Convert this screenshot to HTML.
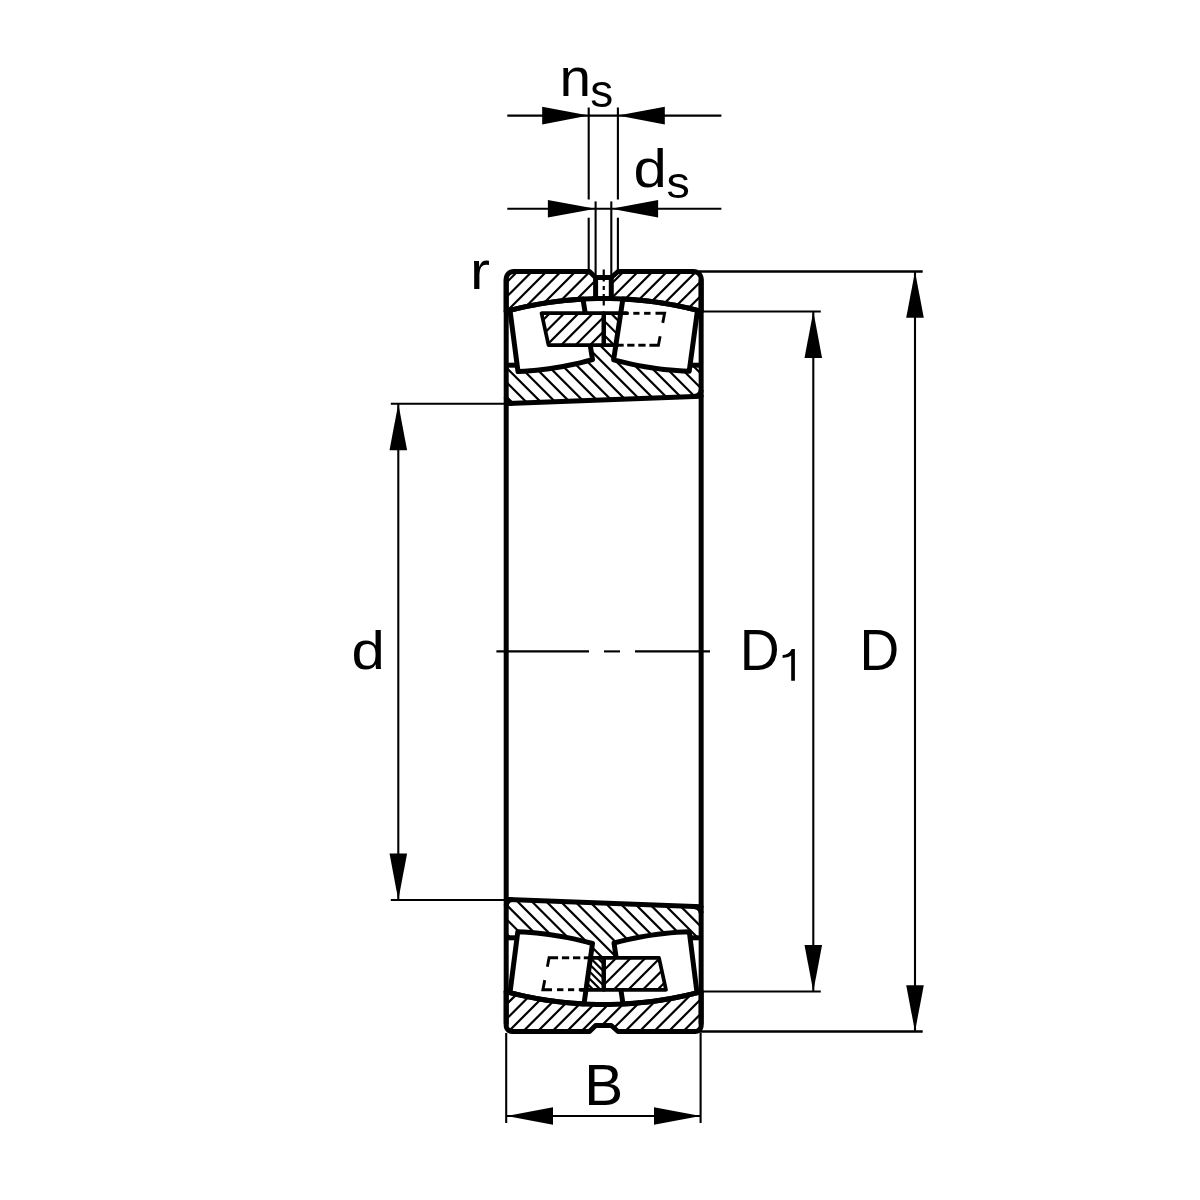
<!DOCTYPE html>
<html><head><meta charset="utf-8"><style>html,body{margin:0;padding:0;background:#fff;width:1200px;height:1200px;overflow:hidden}svg{display:block;will-change:transform}</style></head><body>
<svg width="1200" height="1200" viewBox="0 0 1200 1200">
<defs><clipPath id="k1"><path d="M506.2 311.32 L506.2 279 L506.34 277.54 L506.77 276.13 L507.46 274.83 L508.4 273.7 L509.53 272.76 L510.83 272.07 L512.24 271.64 L513.7 271.5 L589.5 271.5 L595.6 277.5 L595.6 277.5 L595.6 298.59 L590.01 298.75 L584.42 298.99 L578.84 299.32 L573.25 299.73 L567.66 300.23 L562.08 300.81 L556.49 301.47 L550.9 302.22 L545.31 303.05 L539.73 303.97 L534.14 304.97 L528.55 306.06 L522.96 307.24 L517.38 308.51 L511.79 309.87 Z"/></clipPath><clipPath id="k2"><path d="M611.3 298.58 L611.3 277.5 L618 271.5 L693.65 271.5 L695.11 271.64 L696.52 272.07 L697.82 272.76 L698.95 273.7 L699.89 274.83 L700.58 276.13 L701.01 277.54 L701.15 279 L701.15 311.28 L695.53 309.83 L689.92 308.46 L684.3 307.19 L678.69 306.01 L673.07 304.92 L667.46 303.91 L661.84 303 L656.22 302.16 L650.61 301.42 L644.99 300.76 L639.38 300.18 L633.76 299.69 L628.15 299.29 L622.53 298.97 L616.92 298.73 Z"/></clipPath><clipPath id="k3"><path d="M506.2 365.2 L516.8 365.2 L518 371.6 L524.21 371.27 L530.42 370.82 L536.62 370.25 L542.83 369.56 L549.04 368.74 L555.25 367.8 L561.46 366.74 L567.67 365.56 L573.88 364.25 L580.08 362.82 L586.29 361.27 L592.5 359.6 L590.6 345.2 L616.9 345.2 L613.6 359.8 L619.9 361.43 L626.2 362.94 L632.5 364.32 L638.8 365.59 L645.1 366.73 L651.4 367.75 L657.7 368.65 L664 369.42 L670.3 370.07 L676.6 370.61 L682.9 371.01 L689.2 371.3 L690.7 365.2 L701.15 365.2 L701.15 396.2 L506.2 403.6 Z"/></clipPath><clipPath id="k4"><path d="M603.75 313.2 L622.5 313.2 L617.5 345.2 L603.75 345.2 Z"/></clipPath><clipPath id="k5"><path d="M541.5 313.2 L603.75 313.2 L603.75 345.2 L548.5 345.2 Z"/></clipPath><clipPath id="k6"><path d="M506.2 991.68 L506.2 1025.5 L506.32 1026.67 L506.66 1027.8 L507.21 1028.83 L507.96 1029.74 L508.87 1030.49 L509.9 1031.04 L511.03 1031.38 L512.2 1031.5 L589.5 1031.5 L595.6 1025.5 L611.3 1025.5 L618 1031.5 L695.15 1031.5 L696.32 1031.38 L697.45 1031.04 L698.48 1030.49 L699.39 1029.74 L700.14 1028.83 L700.69 1027.8 L701.03 1026.67 L701.15 1025.5 L701.15 991.72 L694.65 993.39 L688.15 994.94 L681.65 996.37 L675.16 997.69 L668.66 998.88 L662.16 999.95 L655.66 1000.91 L649.16 1001.76 L642.66 1002.49 L636.17 1003.11 L629.67 1003.61 L623.17 1004 L616.67 1004.28 L610.17 1004.45 L603.67 1004.5 L597.18 1004.44 L590.68 1004.27 L584.18 1003.99 L577.68 1003.6 L571.18 1003.09 L564.68 1002.47 L558.19 1001.74 L551.69 1000.89 L545.19 999.93 L538.69 998.85 L532.19 997.66 L525.69 996.34 L519.2 994.91 L512.7 993.36 Z"/></clipPath><clipPath id="k7"><path d="M506.2 937.8 L516.8 937.8 L517.8 931.8 L524.02 932.1 L530.25 932.53 L536.47 933.08 L542.7 933.74 L548.92 934.54 L555.15 935.45 L561.38 936.49 L567.6 937.64 L573.83 938.92 L580.05 940.33 L586.27 941.85 L592.5 943.5 L590.6 957.8 L616.9 957.8 L614 943 L620.27 941.39 L626.55 939.89 L632.83 938.53 L639.1 937.28 L645.38 936.15 L651.65 935.15 L657.92 934.27 L664.2 933.51 L670.47 932.88 L676.75 932.36 L683.02 931.97 L689.3 931.7 L690.7 937.8 L701.15 937.8 L701.15 906.8 L506.2 899.4 Z"/></clipPath><clipPath id="k8"><path d="M603.75 989.8 L585 989.8 L590 957.8 L603.75 957.8 Z"/></clipPath><clipPath id="k9"><path d="M666 989.8 L603.75 989.8 L603.75 957.8 L659 957.8 Z"/></clipPath></defs>
<rect width="1200" height="1200" fill="#fff"/>
<g fill="none" stroke="#000" stroke-linecap="butt"><path d="M603.75 269.5V275M603.75 279.5V281.5M603.75 286V290M603.75 294V296M603.75 301V305.5" stroke-width="2.2"/><path d="M496.4 651.4 L589 651.4" stroke-width="2.1"/><path d="M604 651.4 L620 651.4" stroke-width="2.1"/><path d="M635 651.4 L710 651.4" stroke-width="2.1"/><path d="M507.3 115.6 L721.4 115.6" stroke-width="2.1"/><path d="M588.7 115.6 L542.2 106.8 L542.2 124.4 Z" fill="#000" stroke="none"/><path d="M617.9 115.6 L664.8 124.4 L664.8 106.8 Z" fill="#000" stroke="none"/><path d="M588.7 107.5 L588.7 199.5" stroke-width="2.1"/><path d="M617.9 107.5 L617.9 199.5" stroke-width="2.1"/><path d="M588.7 217.7 L588.7 271" stroke-width="2.1"/><path d="M617.9 217.7 L617.9 271" stroke-width="2.1"/><path d="M507.3 208.7 L721.4 208.7" stroke-width="2.1"/><path d="M595.6 208.7 L547.9 199.9 L547.9 217.5 Z" fill="#000" stroke="none"/><path d="M611.3 208.7 L658.1 217.5 L658.1 199.9 Z" fill="#000" stroke="none"/><path d="M595.6 201.4 L595.6 277" stroke-width="2.1"/><path d="M611.3 201.4 L611.3 277" stroke-width="2.1"/><path d="M390.8 403.8 L504 403.8" stroke-width="2.1"/><path d="M390.8 900 L504 900" stroke-width="2.1"/><path d="M398.3 403.8 L398.3 900" stroke-width="2.1"/><path d="M398.3 403.8 L389.5 450.3 L407.1 450.3 Z" fill="#000" stroke="none"/><path d="M398.3 900 L407.1 853.4 L389.5 853.4 Z" fill="#000" stroke="none"/><path d="M701 311.5 L820.8 311.5" stroke-width="2.1"/><path d="M701 991.5 L820.8 991.5" stroke-width="2.1"/><path d="M813.3 311.5 L813.3 991.5" stroke-width="2.1"/><path d="M813.3 311.5 L804.5 357.9 L822.1 357.9 Z" fill="#000" stroke="none"/><path d="M813.3 991.5 L822.1 945.1 L804.5 945.1 Z" fill="#000" stroke="none"/><path d="M699 271.5 L922.7 271.5" stroke-width="2.4"/><path d="M699 1031.5 L922.7 1031.5" stroke-width="2.4"/><path d="M915 271.5 L915 1031.5" stroke-width="2.1"/><path d="M915 271.5 L906.2 317.7 L923.8 317.7 Z" fill="#000" stroke="none"/><path d="M915 1031.5 L923.8 985.3 L906.2 985.3 Z" fill="#000" stroke="none"/><path d="M506.2 1033 L506.2 1123" stroke-width="2.1"/><path d="M700.6 1033 L700.6 1123" stroke-width="2.1"/><path d="M506.2 1116 L700.6 1116" stroke-width="2.1"/><path d="M506.2 1116 L553 1124.8 L553 1107.2 Z" fill="#000" stroke="none"/><path d="M700.6 1116 L654 1107.2 L654 1124.8 Z" fill="#000" stroke="none"/></g>
<g fill="none" stroke="#000" stroke-linecap="round" stroke-linejoin="round"><path clip-path="url(#k1)" d="M491.5 268.5L445.68 314.32M506 268.5L460.18 314.32M520.5 268.5L474.68 314.32M535 268.5L489.18 314.32M549.5 268.5L503.68 314.32M564 268.5L518.18 314.32M578.5 268.5L532.68 314.32M593 268.5L547.18 314.32M607.5 268.5L561.68 314.32M622 268.5L576.18 314.32M636.5 268.5L590.68 314.32" stroke-width="2.2" stroke-linecap="butt"/><path clip-path="url(#k2)" d="M597.7 268.5L551.92 314.28M612.2 268.5L566.42 314.28M626.7 268.5L580.92 314.28M641.2 268.5L595.42 314.28M655.7 268.5L609.92 314.28M670.2 268.5L624.42 314.28M684.7 268.5L638.92 314.28M699.2 268.5L653.42 314.28M713.7 268.5L667.92 314.28M728.2 268.5L682.42 314.28M742.7 268.5L696.92 314.28" stroke-width="2.2" stroke-linecap="butt"/><path clip-path="url(#k3)" d="M437.5 342.2L501.9 406.6M452 342.2L516.4 406.6M466.5 342.2L530.9 406.6M481 342.2L545.4 406.6M495.5 342.2L559.9 406.6M510 342.2L574.4 406.6M524.5 342.2L588.9 406.6M539 342.2L603.4 406.6M553.5 342.2L617.9 406.6M568 342.2L632.4 406.6M582.5 342.2L646.9 406.6M597 342.2L661.4 406.6M611.5 342.2L675.9 406.6M626 342.2L690.4 406.6M640.5 342.2L704.9 406.6M655 342.2L719.4 406.6M669.5 342.2L733.9 406.6M684 342.2L748.4 406.6M698.5 342.2L762.9 406.6" stroke-width="2.2" stroke-linecap="butt"/><path d="M510 310.32 L518 371.6 L524.21 371.27 L530.42 370.82 L536.62 370.25 L542.83 369.56 L549.04 368.74 L555.25 367.8 L561.46 366.74 L567.67 365.56 L573.88 364.25 L580.08 362.82 L586.29 361.27 L592.5 359.6 L583 299.07 L576.92 299.45 L570.83 299.94 L564.75 300.52 L558.67 301.2 L552.58 301.98 L546.5 302.87 L540.42 303.85 L534.33 304.94 L528.25 306.13 L522.17 307.42 L516.08 308.82 L510 310.32 Z" fill="#fff" stroke-width="5"/><path d="M622.9 298.99 L613.6 359.8 L619.9 361.43 L626.2 362.94 L632.5 364.32 L638.8 365.59 L645.1 366.73 L651.4 367.75 L657.7 368.65 L664 369.42 L670.3 370.07 L676.6 370.61 L682.9 371.01 L689.2 371.3 L697.5 310.32 L691.28 308.79 L685.07 307.36 L678.85 306.04 L672.63 304.84 L666.42 303.74 L660.2 302.74 L653.98 301.86 L647.77 301.07 L641.55 300.4 L635.33 299.82 L629.12 299.35 L622.9 298.99 Z" fill="#fff" stroke-width="5"/><path clip-path="url(#k4)" d="M550.6 310.2L588.6 348.2M564.9 310.2L602.9 348.2M579.2 310.2L617.2 348.2M593.5 310.2L631.5 348.2M607.8 310.2L645.8 348.2M622.1 310.2L660.1 348.2" stroke-width="2.2" stroke-linecap="butt"/><path d="M541.5 313.2 L603.75 313.2 L603.75 345.2 L548.5 345.2 Z" fill="#fff" stroke="none"/><path clip-path="url(#k5)" d="M538.5 310.2L500.5 348.2M552.9 310.2L514.9 348.2M567.3 310.2L529.3 348.2M581.7 310.2L543.7 348.2M596.1 310.2L558.1 348.2M610.5 310.2L572.5 348.2M624.9 310.2L586.9 348.2M639.3 310.2L601.3 348.2" stroke-width="2.2" stroke-linecap="butt"/><path d="M541.5 313.2 L603.75 313.2 L603.75 345.2 L548.5 345.2 Z" stroke-width="3.7"/><path d="M603.75 313.2 L626.7 313.2" stroke-width="3.7"/><path d="M603.75 345.2 L617.5 345.2" stroke-width="3.7"/><path d="M603.75 313.2 L603.75 345.2" stroke-width="4.4" stroke-linecap="butt"/><path d="M623.4 313.3 L628.7 313.3" stroke-width="2.9" stroke-linecap="butt" stroke-linejoin="miter"/><path d="M633.3 313.3 L639.5 313.3" stroke-width="2.9" stroke-linecap="butt" stroke-linejoin="miter"/><path d="M644.1 313.3 L650.5 313.3" stroke-width="2.9" stroke-linecap="butt" stroke-linejoin="miter"/><path d="M655.5 313.3 L664.6 313.3 L662.74 322.87" stroke-width="2.9" stroke-linecap="butt" stroke-linejoin="miter"/><path d="M660.14 336.27 L658.4 345.2 L649.4 345.2" stroke-width="2.9" stroke-linecap="butt" stroke-linejoin="miter"/><path d="M645.6 345.2 L638.3 345.2" stroke-width="2.9" stroke-linecap="butt" stroke-linejoin="miter"/><path d="M634.5 345.2 L627.2 345.2" stroke-width="2.9" stroke-linecap="butt" stroke-linejoin="miter"/><path d="M623.7 345.2 L618.2 345.2" stroke-width="2.9" stroke-linecap="butt" stroke-linejoin="miter"/><path d="M506.2 311.32 L506.2 279 L506.34 277.54 L506.77 276.13 L507.46 274.83 L508.4 273.7 L509.53 272.76 L510.83 272.07 L512.24 271.64 L513.7 271.5 L589.5 271.5 L595.6 277.5 L611.3 277.5 L618 271.5 L693.65 271.5 L695.11 271.64 L696.52 272.07 L697.82 272.76 L698.95 273.7 L699.89 274.83 L700.58 276.13 L701.01 277.54 L701.15 279 L701.15 311.28" stroke-width="5"/><path d="M595.6 277.5 L595.6 298.59" stroke-width="5"/><path d="M611.3 277.5 L611.3 298.58" stroke-width="5"/><path d="M506.2 311.32 L512.7 309.64 L519.2 308.09 L525.69 306.66 L532.19 305.34 L538.69 304.15 L545.19 303.07 L551.69 302.11 L558.19 301.26 L564.68 300.53 L571.18 299.91 L577.68 299.4 L584.18 299.01 L590.68 298.73 L597.18 298.56 L603.67 298.5 L610.17 298.55 L616.67 298.72 L623.17 299 L629.67 299.39 L636.17 299.89 L642.66 300.51 L649.16 301.24 L655.66 302.09 L662.16 303.05 L668.66 304.12 L675.16 305.31 L681.65 306.63 L688.15 308.06 L694.65 309.61 L701.15 311.28" stroke-width="5"/><path d="M506.2 365.2 L516.8 365.2" stroke-width="5" stroke-linecap="butt"/><path d="M690.7 365.2 L701.15 365.2" stroke-width="5" stroke-linecap="butt"/><path d="M506.2 403.6 L701.15 396.2" stroke-width="5"/><path d="M506.2 403.6 L506.2 397.1 L506.42 398.78 L507.07 400.35 L508.1 401.7 L509.45 402.73 L511.02 403.38 L512.7 403.6 L512.7 403.6 Z" fill="#000" stroke="none"/><path d="M506.2 397.1 L506.42 398.78 L507.07 400.35 L508.1 401.7 L509.45 402.73 L511.02 403.38 L512.7 403.6 L512.7 403.6" stroke-width="5" stroke-linecap="butt"/><path d="M701.15 396.2 L701.15 389.7 L700.93 391.38 L700.28 392.95 L699.25 394.3 L697.9 395.33 L696.33 395.98 L694.65 396.2 L694.65 396.2 Z" fill="#000" stroke="none"/><path d="M701.15 389.7 L700.93 391.38 L700.28 392.95 L699.25 394.3 L697.9 395.33 L696.33 395.98 L694.65 396.2 L694.65 396.2" stroke-width="5" stroke-linecap="butt"/><path clip-path="url(#k6)" d="M493.12 988.68L447.3 1034.5M507.67 988.68L461.85 1034.5M522.22 988.68L476.4 1034.5M536.77 988.68L490.95 1034.5M551.32 988.68L505.5 1034.5M565.87 988.68L520.05 1034.5M580.42 988.68L534.6 1034.5M594.97 988.68L549.15 1034.5M609.52 988.68L563.7 1034.5M624.07 988.68L578.25 1034.5M638.62 988.68L592.8 1034.5M653.17 988.68L607.35 1034.5M667.72 988.68L621.9 1034.5M682.27 988.68L636.45 1034.5M696.82 988.68L651 1034.5M711.37 988.68L665.55 1034.5M725.92 988.68L680.1 1034.5M740.47 988.68L694.65 1034.5" stroke-width="2.2" stroke-linecap="butt"/><path clip-path="url(#k7)" d="M426 896.4L490.4 960.8M440.4 896.4L504.8 960.8M454.8 896.4L519.2 960.8M469.2 896.4L533.6 960.8M483.6 896.4L548 960.8M498 896.4L562.4 960.8M512.4 896.4L576.8 960.8M526.8 896.4L591.2 960.8M541.2 896.4L605.6 960.8M555.6 896.4L620 960.8M570 896.4L634.4 960.8M584.4 896.4L648.8 960.8M598.8 896.4L663.2 960.8M613.2 896.4L677.6 960.8M627.6 896.4L692 960.8M642 896.4L706.4 960.8M656.4 896.4L720.8 960.8M670.8 896.4L735.2 960.8M685.2 896.4L749.6 960.8M699.6 896.4L764 960.8" stroke-width="2.2" stroke-linecap="butt"/><path d="M510 992.68 L517.8 931.8 L524.02 932.1 L530.25 932.53 L536.47 933.08 L542.7 933.74 L548.92 934.54 L555.15 935.45 L561.38 936.49 L567.6 937.64 L573.83 938.92 L580.05 940.33 L586.27 941.85 L592.5 943.5 L584 1003.98 L577.83 1003.61 L571.67 1003.13 L565.5 1002.56 L559.33 1001.88 L553.17 1001.1 L547 1000.21 L540.83 999.22 L534.67 998.13 L528.5 996.92 L522.33 995.62 L516.17 994.2 L510 992.68 Z" fill="#fff" stroke-width="5"/><path d="M623 1004.01 L614 943 L620.27 941.39 L626.55 939.89 L632.83 938.53 L639.1 937.28 L645.38 936.15 L651.65 935.15 L657.92 934.27 L664.2 933.51 L670.47 932.88 L676.75 932.36 L683.02 931.97 L689.3 931.7 L697 992.8 L690.83 994.32 L684.67 995.73 L678.5 997.03 L672.33 998.22 L666.17 999.3 L660 1000.29 L653.83 1001.16 L647.67 1001.94 L641.5 1002.61 L635.33 1003.18 L629.17 1003.64 L623 1004.01 Z" fill="#fff" stroke-width="5"/><path clip-path="url(#k8)" d="M544 954.8L582 992.8M551.2 954.8L589.2 992.8M558.4 954.8L596.4 992.8M565.6 954.8L603.6 992.8M572.8 954.8L610.8 992.8M580 954.8L618 992.8M587.2 954.8L625.2 992.8M594.4 954.8L632.4 992.8M601.6 954.8L639.6 992.8" stroke-width="2.2" stroke-linecap="butt"/><path d="M666 989.8 L603.75 989.8 L603.75 957.8 L659 957.8 Z" fill="#fff" stroke="none"/><path clip-path="url(#k9)" d="M590.2 954.8L552.2 992.8M604.8 954.8L566.8 992.8M619.4 954.8L581.4 992.8M634 954.8L596 992.8M648.6 954.8L610.6 992.8M663.2 954.8L625.2 992.8M677.8 954.8L639.8 992.8M692.4 954.8L654.4 992.8M707 954.8L669 992.8" stroke-width="2.2" stroke-linecap="butt"/><path d="M666 989.8 L603.75 989.8 L603.75 957.8 L659 957.8 Z" stroke-width="3.7"/><path d="M603.75 989.8 L580.8 989.8" stroke-width="3.7"/><path d="M603.75 957.8 L590 957.8" stroke-width="3.7"/><path d="M603.75 989.8 L603.75 957.8" stroke-width="4.4" stroke-linecap="butt"/><path d="M584.1 989.7 L578.8 989.7" stroke-width="2.9" stroke-linecap="butt" stroke-linejoin="miter"/><path d="M574.2 989.7 L568 989.7" stroke-width="2.9" stroke-linecap="butt" stroke-linejoin="miter"/><path d="M563.4 989.7 L557 989.7" stroke-width="2.9" stroke-linecap="butt" stroke-linejoin="miter"/><path d="M552 989.7 L542.9 989.7 L544.76 980.13" stroke-width="2.9" stroke-linecap="butt" stroke-linejoin="miter"/><path d="M547.36 966.73 L549.1 957.8 L558.1 957.8" stroke-width="2.9" stroke-linecap="butt" stroke-linejoin="miter"/><path d="M561.9 957.8 L569.2 957.8" stroke-width="2.9" stroke-linecap="butt" stroke-linejoin="miter"/><path d="M573 957.8 L580.3 957.8" stroke-width="2.9" stroke-linecap="butt" stroke-linejoin="miter"/><path d="M583.8 957.8 L589.3 957.8" stroke-width="2.9" stroke-linecap="butt" stroke-linejoin="miter"/><path d="M506.2 991.68 L506.2 1025.5 L506.32 1026.67 L506.66 1027.8 L507.21 1028.83 L507.96 1029.74 L508.87 1030.49 L509.9 1031.04 L511.03 1031.38 L512.2 1031.5 L589.5 1031.5 L595.6 1025.5 L611.3 1025.5 L618 1031.5 L695.15 1031.5 L696.32 1031.38 L697.45 1031.04 L698.48 1030.49 L699.39 1029.74 L700.14 1028.83 L700.69 1027.8 L701.03 1026.67 L701.15 1025.5 L701.15 991.72" stroke-width="5"/><path d="M506.2 991.68 L512.7 993.36 L519.2 994.91 L525.69 996.34 L532.19 997.66 L538.69 998.85 L545.19 999.93 L551.69 1000.89 L558.19 1001.74 L564.68 1002.47 L571.18 1003.09 L577.68 1003.6 L584.18 1003.99 L590.68 1004.27 L597.18 1004.44 L603.67 1004.5 L610.17 1004.45 L616.67 1004.28 L623.17 1004 L629.67 1003.61 L636.17 1003.11 L642.66 1002.49 L649.16 1001.76 L655.66 1000.91 L662.16 999.95 L668.66 998.88 L675.16 997.69 L681.65 996.37 L688.15 994.94 L694.65 993.39 L701.15 991.72" stroke-width="5"/><path d="M506.2 937.8 L516.8 937.8" stroke-width="5" stroke-linecap="butt"/><path d="M690.7 937.8 L701.15 937.8" stroke-width="5" stroke-linecap="butt"/><path d="M506.2 899.4 L701.15 906.8" stroke-width="5"/><path d="M506.2 899.4 L506.2 905.9 L506.42 904.22 L507.07 902.65 L508.1 901.3 L509.45 900.27 L511.02 899.62 L512.7 899.4 L512.7 899.4 Z" fill="#000" stroke="none"/><path d="M506.2 905.9 L506.42 904.22 L507.07 902.65 L508.1 901.3 L509.45 900.27 L511.02 899.62 L512.7 899.4 L512.7 899.4" stroke-width="5" stroke-linecap="butt"/><path d="M701.15 906.8 L701.15 913.3 L700.93 911.62 L700.28 910.05 L699.25 908.7 L697.9 907.67 L696.33 907.02 L694.65 906.8 L694.65 906.8 Z" fill="#000" stroke="none"/><path d="M701.15 913.3 L700.93 911.62 L700.28 910.05 L699.25 908.7 L697.9 907.67 L696.33 907.02 L694.65 906.8 L694.65 906.8" stroke-width="5" stroke-linecap="butt"/><path d="M506.2 280 L506.2 1023" stroke-width="5"/><path d="M701.15 280 L701.15 1023" stroke-width="5"/></g>
<g font-family="Liberation Sans, sans-serif" fill="#000"><text transform="translate(559.41 95.9) scale(1.0415 1)" font-size="54.44">n</text><text transform="translate(590.22 107.25) scale(1.0145 1)" font-size="45.32">s</text><text transform="translate(633.6 187.16) scale(1.1136 1)" font-size="53.88">d</text><text transform="translate(666.5 198.36) scale(1.0553 1)" font-size="44.22">s</text><text transform="translate(470.1 289) scale(1.1172 1)" font-size="53.7">r</text><text transform="translate(351.6 669.21) scale(1.1094 1)" font-size="54.08">d</text><text transform="translate(739.68 669.6) scale(0.9683 1)" font-size="57.1">D</text><text transform="translate(859.6 669.5) scale(0.9615 1)" font-size="57.25">D</text><text transform="translate(584.33 1105) scale(1.0268 1)" font-size="56.88">B</text><path d="M794.9 648.9V680.7H791.2V655.6Q788.3 657.8 782.6 657.9V655Q787.6 654.8 789.9 651.8Q790.9 650.4 791.6 648.9Z"/></g>
</svg></body></html>
